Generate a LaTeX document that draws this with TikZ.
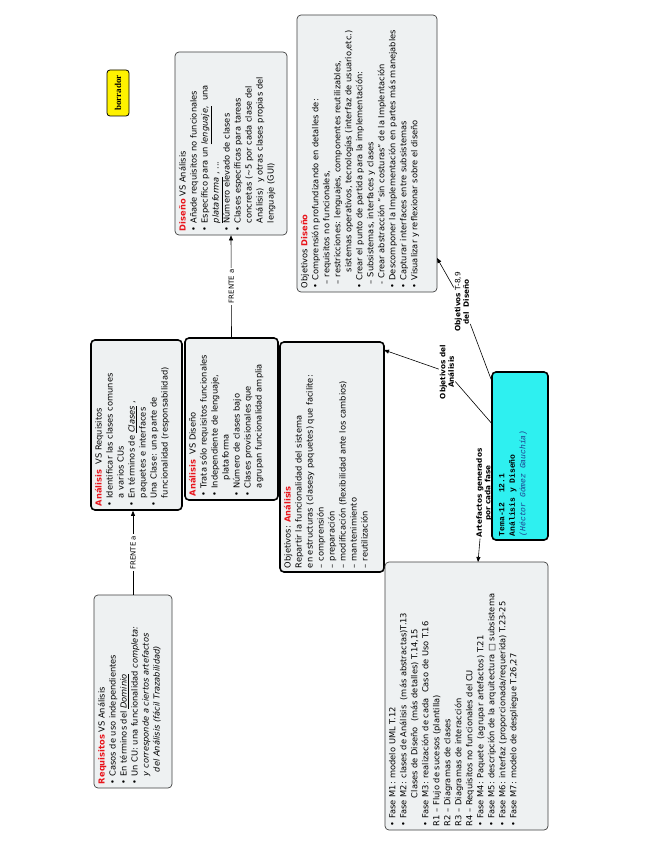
\documentclass[tikz,border=0pt]{standalone}
\usepackage{fontspec}
\setmainfont{DejaVu Sans}
\newfontfamily\monof{Liberation Mono}
\newfontfamily\serifb{Liberation Serif}
\usetikzlibrary{arrows.meta}
\definecolor{boxfill}{HTML}{EEF1F2}
\definecolor{tred}{HTML}{E8141B}
\definecolor{cyanf}{HTML}{2EF0F0}
\definecolor{authc}{HTML}{1F3F8F}
\newcommand\myb{\textbullet\ }
\newcommand\boxtext[3]{\begin{minipage}[c][#2][t]{#1}#3\end{minipage}}
\tikzset{
  cbox/.style={draw=black!75, line width=0.7pt, rounded corners=4pt, fill=boxfill,
    rotate=90, inner sep=4pt, font=\fontsize{8.3}{11}\selectfont},
  thickbox/.style={cbox, draw=black, line width=1.6pt},
  lbl/.style={rotate=90, font=\bfseries\fontsize{7.3}{8.5}\selectfont, align=center, inner sep=1pt},
  frente/.style={rotate=90, font=\fontsize{7}{8}\selectfont, fill=white, inner sep=1.5pt},
  conn/.style={line width=0.6pt},
  arr/.style={conn, -{Triangle[length=5pt,width=4pt]}},
}
\begin{document}
\begin{tikzpicture}[x=1pt,y=-1pt]
\useasboundingbox (0,0) rectangle (655,848);
\fill[white] (0,0) rectangle (655,848);

% borrador
\node[draw=black, line width=0.8pt, fill=yellow, rounded corners=3pt, rotate=90,
  minimum width=46pt, minimum height=22pt, inner sep=1pt,
  font=\serifb\bfseries\fontsize{9}{10}\selectfont] (borr) at (118,93) {borrador};

% Diseño VS Análisis
\node[cbox] (disan) at (231,143.5) {\boxtext{175pt}{104pt}{%
{\color{tred}\bfseries Diseño} VS Análisis\\
\myb Añade requisitos no funcionales\\
\myb Específico para un \underline{\textit{lenguaje,}}\ \ una\\
\hspace*{8pt}\underline{\textit{plataforma}} , ...\\
\myb Número elevado de clases\\
\myb Clases específicas para tareas\\
\hspace*{8pt}concretas (\textasciitilde5 por cada clase del\\
\hspace*{8pt}Análisis)\ \ y otras clases propias del\\
\hspace*{8pt}lenguaje (GUI)}};

% Objetivos Diseño
\node[cbox] (objdis) at (367,153.5) {\boxtext{269pt}{132pt}{%
Objetivos {\color{tred}\bfseries Diseño}\\
\myb Comprensión profundizando en detalles de:\\
\hspace*{4pt}– requisitos no funcionales,\\
\hspace*{4pt}– restricciones: lenguajes, componentes reutilizables,\\
\hspace*{16pt}sistemas operativos, tecnologías (interfaz de usuario,etc.)\\
\myb Crear el punto de partida para la implementación:\\
\hspace*{4pt}– Subsistemas, interfaces y clases\\
\hspace*{4pt}- Crear abstracción "sin costuras" de la Implentación\\
\myb Descomponer la Implementación en partes más manejables\\
\myb Capturar interfaces entre subsistemas\\
\myb Visualizar y reflexionar sobre el diseño}};

% Análisis VS Requisitos
\node[thickbox] (anreq) at (136.5,425) {\boxtext{162pt}{83pt}{%
{\color{tred}\bfseries Análisis}\ \ VS Requisitos\\
\myb Identificar las clases comunes\\
\hspace*{8pt}a varios CUs\\
\myb En términos de \underline{\textit{Clases}} ,\\
\hspace*{8pt}paquetes e interfaces\\
\myb Una Clase: una parte de\\
\hspace*{8pt}funcionalidad (responsabilidad)}};

% Análisis VS Diseño
\node[thickbox] (andis) at (231.5,419) {\boxtext{154pt}{85pt}{%
{\color{tred}\bfseries Análisis}\ \ VS Diseño\\
\myb Trata sólo requisitos funcionales\\
\myb Independiente de lenguaje,\\
\hspace*{16pt}plataforma\\
\myb Número de clases bajo\\
\myb Clases provisionales que\\
\hspace*{8pt}agrupan funcionalidad amplia}};

% Objetivos Análisis
\node[thickbox] (objan) at (332,457) {\boxtext{222pt}{96pt}{%
Objetivos: {\color{tred}\bfseries Análisis}\\
Repartir la funcionalidad del sistema\\
en estructuras (clasesy paquetes) que facilite:\\
– comprensión\\
– preparación\\
– modificación (flexibilidad ante los cambios)\\
– mantenimiento\\
– reutilización}};

% Requisitos VS Análisis
\node[cbox] (req) at (133,691.5) {\boxtext{185pt}{70pt}{%
{\color{tred}\bfseries Requisitos} VS Análisis\\
\myb Casos de uso independientes\\
\myb En términos del \underline{\textit{Dominio}}\\
\myb Un CU: una funcionalidad \textit{completa:}\\
\hspace*{8pt}\textit{y corresponde a ciertos artefactos}\\
\hspace*{12pt}\textit{del Análisis (fácil Trazabilidad)}}};

% Fases
\node[cbox] (fase) at (466.5,696) {\boxtext{260pt}{155pt}{%
\myb Fase M1: modelo UML T.12\\
\myb Fase M2: clases de Análisis\ \ (más abstractas)T.13\\
\hspace*{28pt}Clases de Diseño\ \ (más detalles) T.14,15\\
\myb Fase M3: realización de cada\ \ Caso de Uso T.16\\
R1 – Flujo de sucesos (plantilla)\\
R2 – Diagramas de clases\\
R3 – Diagramas de interacción\\
R4 – Requisitos no funcionales del CU\\
\myb Fase M4: Paquete\ \ (agrupar artefactos) T.21\\
\myb Fase M5: descripción de la arquitectura □ subsistema\\
\myb Fase M6: interfaz (proporcionada/requerida) T.23-25\\
\myb Fase M7: modelo de despliegue T.26,27}};

% central
\node[thickbox, fill=cyanf, font=\monof\fontsize{8}{10.5}\selectfont] (cent) at (520,456)
 {\boxtext{160pt}{48pt}{\vspace*{3pt}%
{\bfseries Tema-12\ \ 12.1}\\
{\bfseries Análisis y Diseño}\\
{\color{authc}\itshape (Héctor Gómez Gauchía)}}};

% labels
\node[lbl] (lblan) at (447,372) {Objetivos del\\Análisis};
\node[lbl] (lbldis) at (462,302) {Objetivos {\mdseries T-8,9}\\del\ \ Diseño};
\node[lbl] (lblart) at (484,493) {Artefactos generados\\por cada fase};

\coordinate (pan) at (384,350);
\coordinate (pdis) at (437,258);
\coordinate (part) at (478,562);

% connectors
\draw[arr] (req.east) -- node[frente] {FRENTE a} (req.east |- anreq.west);
\draw[arr] (andis.east) -- node[frente] {FRENTE a} (disan.west);
\draw[conn] (cent) -- (lblan);
\draw[arr] (lblan) -- (pan);
\draw[conn] (cent) -- (lbldis);
\draw[arr] (lbldis) -- (pdis);
\draw[conn] (cent) -- (lblart);
\draw[arr] (lblart) -- (part);
\end{tikzpicture}
\end{document}
